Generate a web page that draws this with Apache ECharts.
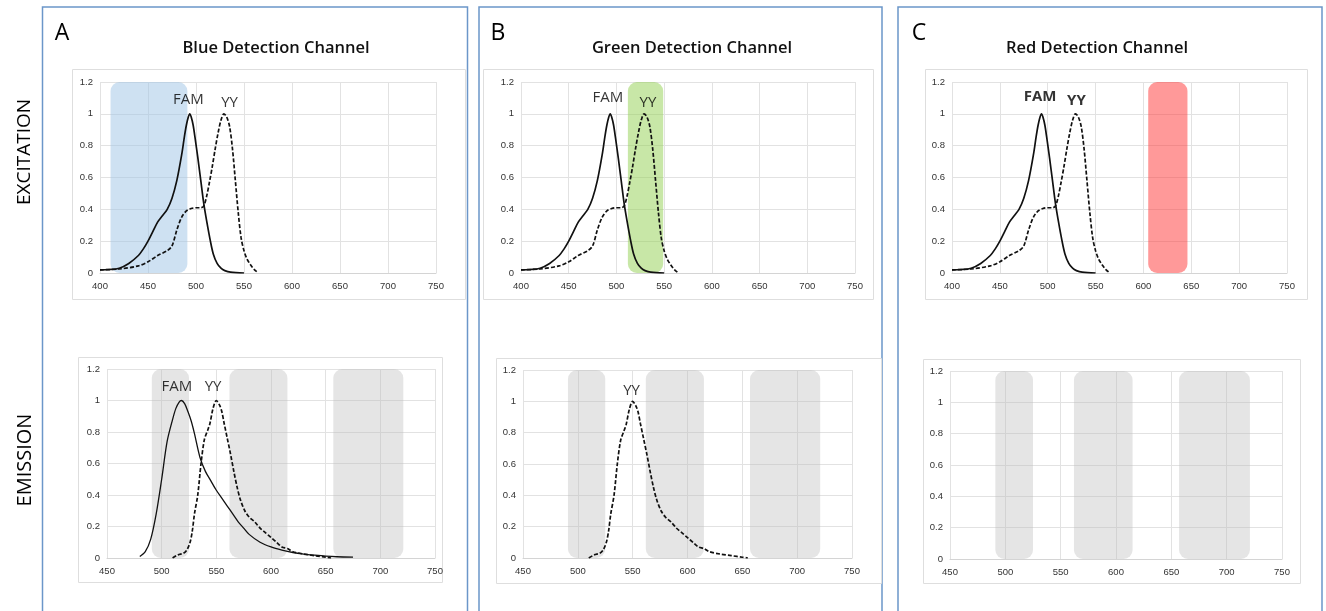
<!DOCTYPE html>
<html>
<head>
<meta charset="utf-8">
<title>Detection channels - excitation / emission</title>
<script src="https://cdn.jsdelivr.net/npm/echarts/dist/echarts.min.js"></script>
<style>
  html, body { margin: 0; padding: 0; background: #fff; }
  #main { width: 1326px; height: 611px; }
</style>
</head>
<body>
<div id="main"></div>
<script>
// excitation spectra, normalised
const famExcNm = [400, 410, 420, 430, 440, 445, 450, 455, 460, 465, 470, 475, 480, 485, 488, 490, 492, 493.5, 495, 497, 499, 502, 505, 508, 511, 515, 518, 522, 526, 530, 536, 550];
const famExc   = [0.02, 0.022, 0.03, 0.06, 0.11, 0.15, 0.20, 0.26, 0.32, 0.36, 0.40, 0.47, 0.58, 0.74, 0.86, 0.93, 0.98, 1.0, 0.98, 0.93, 0.85, 0.72, 0.58, 0.44, 0.33, 0.20, 0.12, 0.06, 0.03, 0.015, 0.005, 0.0];
const yyExcNm  = [400, 420, 440, 450, 460, 470, 475, 480, 485, 490, 495, 500, 505, 508, 511, 514, 517, 520, 523, 526, 529, 532, 535, 538, 541, 544, 547, 550, 553, 557, 561, 565];
const yyExc    = [0.02, 0.025, 0.045, 0.07, 0.11, 0.14, 0.17, 0.27, 0.35, 0.39, 0.405, 0.41, 0.41, 0.42, 0.48, 0.57, 0.67, 0.78, 0.88, 0.96, 1.0, 0.98, 0.92, 0.78, 0.58, 0.38, 0.22, 0.14, 0.09, 0.05, 0.02, 0.0];

// emission spectra
const famEmNm = [480, 485, 490, 495, 500, 505, 510, 513, 516, 518, 521, 524, 527, 530, 535, 540, 545, 550, 555, 560, 565, 570, 575, 580, 590, 600, 610, 620, 630, 640, 650, 660, 675];
const famEm   = [0.01, 0.04, 0.12, 0.28, 0.50, 0.74, 0.88, 0.95, 0.99, 1.0, 0.98, 0.93, 0.87, 0.79, 0.64, 0.55, 0.49, 0.43, 0.38, 0.33, 0.28, 0.23, 0.19, 0.15, 0.10, 0.07, 0.05, 0.035, 0.025, 0.018, 0.012, 0.008, 0.005];
const yyEmNm  = [510, 515, 520, 523, 526, 528, 530, 533, 536, 539, 542, 544, 547, 550, 553, 555, 557, 560, 563, 566, 569, 572, 576, 580, 585, 590, 595, 600, 605, 610, 615, 620, 630, 640, 650, 655];
const yyEm    = [0.0, 0.02, 0.03, 0.05, 0.10, 0.17, 0.28, 0.40, 0.60, 0.75, 0.81, 0.85, 0.95, 1.0, 0.97, 0.93, 0.86, 0.76, 0.66, 0.55, 0.45, 0.37, 0.30, 0.26, 0.23, 0.19, 0.16, 0.13, 0.10, 0.07, 0.06, 0.04, 0.025, 0.015, 0.005, 0.0];

// filter pass bands [from nm, to nm]
const blueBand  = [[411, 491]];
const greenBand = [[512, 549]];
const redBand   = [[605, 646]];
const emBands   = [[491, 525], [562, 615], [657, 721]];

const letters = ['A', 'B', 'C'];
const titles = ['Blue Detection Channel', 'Green Detection Channel', 'Red Detection Channel'];

function pairs(xs, ys) {
  return xs.map(function (x, i) { return [x, ys[i]]; });
}

// grid order: A top, A bottom, B top, B bottom, C top, C bottom
const grids = [
  { left: 100, top: 82, width: 336, height: 191 },
  { left: 107, top: 369, width: 328, height: 189 },
  { left: 521, top: 82, width: 334, height: 191 },
  { left: 523, top: 370, width: 329, height: 188 },
  { left: 952, top: 82, width: 335, height: 191 },
  { left: 950, top: 371, width: 332, height: 188 }
];

function xAx(i, min) {
  return {
    gridIndex: i, type: 'value', min: min, max: 750, interval: 50,
    axisLine: { show: true, lineStyle: { color: '#d4d4d4' } },
    axisTick: { show: false },
    splitLine: { show: true, lineStyle: { color: '#e2e2e2' } },
    axisLabel: { fontSize: 9.5, color: '#333', margin: 8, fontFamily: 'Liberation Sans' }
  };
}
function yAx(i) {
  return {
    gridIndex: i, type: 'value', min: 0, max: 1.2, interval: 0.2,
    axisLine: { show: false }, axisTick: { show: false },
    splitLine: { show: true, lineStyle: { color: '#e2e2e2' } },
    axisLabel: { fontSize: 9.5, color: '#333', margin: 7, fontFamily: 'Liberation Sans' }
  };
}

function bandSeries(i, bands, color) {
  return {
    type: 'custom', xAxisIndex: i, yAxisIndex: i, silent: true, z: 1,
    data: bands,
    renderItem: function (params, api) {
      const p0 = api.coord([api.value(0), 1.2]);
      const p1 = api.coord([api.value(1), 0]);
      return {
        type: 'rect',
        shape: { x: p0[0], y: p0[1], width: p1[0] - p0[0], height: p1[1] - p0[1], r: 9 },
        style: { fill: color }
      };
    }
  };
}
function solid(i, xs, ys, w) {
  return {
    type: 'line', xAxisIndex: i, yAxisIndex: i, data: pairs(xs, ys), z: 3,
    symbol: 'none', smooth: 0.3, silent: true,
    lineStyle: { color: '#111', width: w }
  };
}
function dashed(i, xs, ys) {
  return {
    type: 'line', xAxisIndex: i, yAxisIndex: i, data: pairs(xs, ys), z: 3,
    symbol: 'none', smooth: 0.3, silent: true,
    lineStyle: { color: '#111', width: 1.7, type: [4, 2] }
  };
}
function labels(i, items, bold) {
  return {
    type: 'scatter', xAxisIndex: i, yAxisIndex: i, z: 4, silent: true,
    symbolSize: 1, itemStyle: { color: 'rgba(0,0,0,0)' },
    data: items.map(function (d) { return { name: d[0], value: [d[1], d[2]] }; }),
    label: {
      show: true, position: 'inside', formatter: '{b}',
      fontSize: 15, color: '#000', fontFamily: 'Open Sans', fontWeight: bold ? 'bold' : 'normal'
    }
  };
}

const series = [
  bandSeries(0, blueBand, 'rgba(157,195,230,0.5)'),
  solid(0, famExcNm, famExc, 1.7), dashed(0, yyExcNm, yyExc),
  labels(0, [['FAM', 492, 1.09], ['YY', 535, 1.07]]),

  bandSeries(1, emBands, 'rgba(190,190,190,0.4)'),
  solid(1, famEmNm, famEm, 1.3), dashed(1, yyEmNm, yyEm),
  labels(1, [['FAM', 514, 1.09], ['YY', 547, 1.09]]),

  bandSeries(2, greenBand, 'rgba(146,208,80,0.5)'),
  solid(2, famExcNm, famExc, 1.7), dashed(2, yyExcNm, yyExc),
  labels(2, [['FAM', 491, 1.10], ['YY', 533, 1.07]]),

  bandSeries(3, emBands, 'rgba(190,190,190,0.4)'),
  dashed(3, yyEmNm, yyEm),
  labels(3, [['YY', 549, 1.07]]),

  bandSeries(4, redBand, 'rgba(255,60,60,0.52)'),
  solid(4, famExcNm, famExc, 1.7), dashed(4, yyExcNm, yyExc),
  labels(4, [['FAM', 492, 1.11], ['YY', 530, 1.08]], true),

  bandSeries(5, emBands, 'rgba(190,190,190,0.4)')
];

// panel borders, chart frames and texts
const panelBox = [[42.5, 7, 425], [479, 7, 403], [898, 7, 424]];
const frames = [
  [72, 69, 393, 230], [78, 357, 364, 225],
  [483, 69, 390, 230], [496, 358, 385, 225],
  [925, 69, 382, 230], [923, 359, 377, 224]
];
const letterPos = [[62, 33], [498, 33], [919, 33]];
const titlePos = [[276, 48], [692, 48], [1097, 48]];

const graphic = [];
panelBox.forEach(function (b) {
  graphic.push({ type: 'rect', silent: true, z: -10,
    shape: { x: b[0], y: b[1], width: b[2], height: 640 },
    style: { fill: 'none', stroke: '#6b96c9', lineWidth: 1.5 } });
});
frames.forEach(function (f) {
  graphic.push({ type: 'rect', silent: true, z: -10,
    shape: { x: f[0] + 0.5, y: f[1] + 0.5, width: f[2], height: f[3] },
    style: { fill: 'none', stroke: '#dedede', lineWidth: 1 } });
});
letters.forEach(function (l, i) {
  graphic.push({ type: 'text', x: letterPos[i][0], y: letterPos[i][1], silent: true,
    style: { text: l, fontSize: 23, fontFamily: 'Open Sans', fill: '#000', align: 'center', verticalAlign: 'middle' } });
  graphic.push({ type: 'text', x: titlePos[i][0], y: titlePos[i][1], silent: true,
    style: { text: titles[i], fontSize: 16.5, fontWeight: 600, fontFamily: 'Open Sans', fill: '#111', align: 'center', verticalAlign: 'middle' } });
});
graphic.push({ type: 'text', x: 25, y: 152, rotation: Math.PI / 2, silent: true,
  style: { text: 'EXCITATION', fontSize: 19, fontFamily: 'Open Sans', fill: '#000', align: 'center', verticalAlign: 'middle' } });
graphic.push({ type: 'text', x: 25, y: 460, rotation: Math.PI / 2, silent: true,
  style: { text: 'EMISSION', fontSize: 20, fontFamily: 'Open Sans', fill: '#000', align: 'center', verticalAlign: 'middle' } });

const myChart = echarts.init(document.getElementById('main'));
myChart.setOption({
  animation: false,
  backgroundColor: '#fff',
  grid: grids,
  xAxis: [xAx(0, 400), xAx(1, 450), xAx(2, 400), xAx(3, 450), xAx(4, 400), xAx(5, 450)],
  yAxis: [yAx(0), yAx(1), yAx(2), yAx(3), yAx(4), yAx(5)],
  series: series,
  graphic: graphic
});
</script>
</body>
</html>
